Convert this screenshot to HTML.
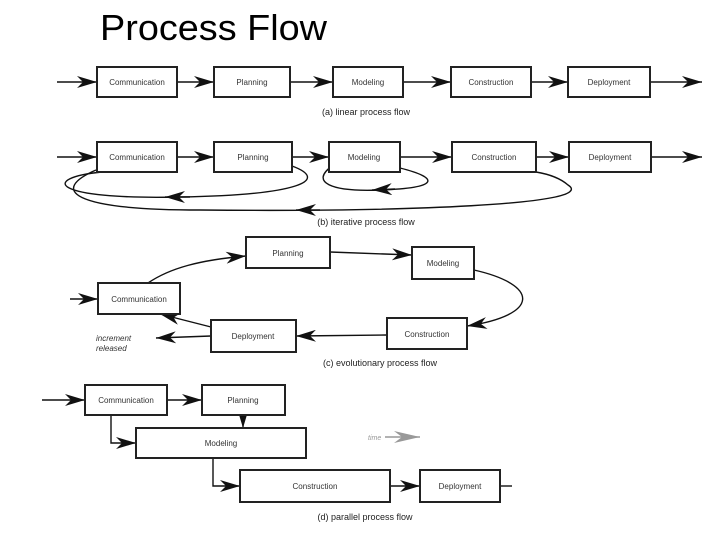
<!DOCTYPE html>
<html><head><meta charset="utf-8"><style>
html,body{margin:0;padding:0;background:#fff;}
svg{display:block;}
text{font-family:"Liberation Sans",sans-serif;}
.b{fill:#fff;stroke:#222;stroke-width:2;}
.t{font-size:8px;fill:#333;text-anchor:middle;}
.l{stroke:#111;stroke-width:1.4;fill:none;}
.cap{font-size:9px;fill:#222;text-anchor:middle;}
</style></head><body>
<svg width="720" height="540" viewBox="0 0 720 540" xmlns="http://www.w3.org/2000/svg">
<defs>
<marker id="a" markerWidth="22" markerHeight="12" refX="20" refY="6" orient="auto" markerUnits="userSpaceOnUse">
<path d="M0,0 L20,6 L0,12 L6,6 z" fill="#111"/></marker>
<marker id="g" markerWidth="28" markerHeight="12" refX="26" refY="6" orient="auto" markerUnits="userSpaceOnUse">
<path d="M0,0 L26,6 L0,12 L8,6 z" fill="#999"/></marker>
</defs>
<text x="100" y="40" font-size="36" textLength="227" lengthAdjust="spacingAndGlyphs" fill="#000">Process Flow</text>

<!-- (a) -->
<g>
<line class="l" x1="57" y1="82" x2="97" y2="82" marker-end="url(#a)"/>
<line class="l" x1="177" y1="82" x2="214" y2="82" marker-end="url(#a)"/>
<line class="l" x1="290" y1="82" x2="333" y2="82" marker-end="url(#a)"/>
<line class="l" x1="403" y1="82" x2="451" y2="82" marker-end="url(#a)"/>
<line class="l" x1="531" y1="82" x2="568" y2="82" marker-end="url(#a)"/>
<line class="l" x1="650" y1="82" x2="702" y2="82" marker-end="url(#a)"/>
<rect class="b" x="97" y="67" width="80" height="30"/><text class="t" x="137" y="85">Communication</text>
<rect class="b" x="214" y="67" width="76" height="30"/><text class="t" x="252" y="85">Planning</text>
<rect class="b" x="333" y="67" width="70" height="30"/><text class="t" x="368" y="85">Modeling</text>
<rect class="b" x="451" y="67" width="80" height="30"/><text class="t" x="491" y="85">Construction</text>
<rect class="b" x="568" y="67" width="82" height="30"/><text class="t" x="609" y="85">Deployment</text>
<text class="cap" x="366" y="115">(a) linear process flow</text>
</g>

<!-- (b) -->
<g>
<path class="l" d="M102,172 C40,178 50,200 180,197 C300,195 330,180 292,166" />
<path class="l" d="M190,197 L165,197" marker-end="url(#a)"/>
<path class="l" d="M332,166 C310,182 330,192 380,190 C440,188 440,178 400,168" />
<path class="l" d="M395,189 L372,190" marker-end="url(#a)"/>
<path class="l" d="M96,170 C50,190 70,210 200,210 C400,212 600,205 568,185 C560,178 548,174 536,172" />
<path class="l" d="M320,210 L296,210" marker-end="url(#a)"/>
<line class="l" x1="57" y1="157" x2="97" y2="157" marker-end="url(#a)"/>
<line class="l" x1="177" y1="157" x2="214" y2="157" marker-end="url(#a)"/>
<line class="l" x1="292" y1="157" x2="329" y2="157" marker-end="url(#a)"/>
<line class="l" x1="400" y1="157" x2="452" y2="157" marker-end="url(#a)"/>
<line class="l" x1="536" y1="157" x2="569" y2="157" marker-end="url(#a)"/>
<line class="l" x1="651" y1="157" x2="702" y2="157" marker-end="url(#a)"/>
<rect class="b" x="97" y="142" width="80" height="30"/><text class="t" x="137" y="160">Communication</text>
<rect class="b" x="214" y="142" width="78" height="30"/><text class="t" x="253" y="160">Planning</text>
<rect class="b" x="329" y="142" width="71" height="30"/><text class="t" x="364" y="160">Modeling</text>
<rect class="b" x="452" y="142" width="84" height="30"/><text class="t" x="494" y="160">Construction</text>
<rect class="b" x="569" y="142" width="82" height="30"/><text class="t" x="610" y="160">Deployment</text>
<text class="cap" x="366" y="225">(b) iterative process flow</text>
</g>

<!-- (c) -->
<g>
<path class="l" d="M148,283 C170,268 200,260 246,256" marker-end="url(#a)"/>
<path class="l" d="M330,252 L412,255" marker-end="url(#a)"/>
<path class="l" d="M474,270 C540,285 540,315 467,326" marker-end="url(#a)"/>
<path class="l" d="M387,335 L296,336" marker-end="url(#a)"/>
<path class="l" d="M211,327 L160,314" marker-end="url(#a)"/>
<path class="l" d="M211,336 L156,338" marker-end="url(#a)"/>
<line class="l" x1="70" y1="299" x2="98" y2="299" marker-end="url(#a)"/>
<rect class="b" x="246" y="237" width="84" height="31"/><text class="t" x="288" y="256">Planning</text>
<rect class="b" x="412" y="247" width="62" height="32"/><text class="t" x="443" y="266">Modeling</text>
<rect class="b" x="98" y="283" width="82" height="31"/><text class="t" x="139" y="302">Communication</text>
<rect class="b" x="387" y="318" width="80" height="31"/><text class="t" x="427" y="337">Construction</text>
<rect class="b" x="211" y="320" width="85" height="32"/><text class="t" x="253" y="339">Deployment</text>
<text x="96" y="341" font-size="8" font-style="italic" fill="#333">increment</text>
<text x="96" y="351" font-size="8" font-style="italic" fill="#333">released</text>
<text class="cap" x="380" y="366">(c) evolutionary process flow</text>
</g>

<!-- (d) -->
<g>
<line class="l" x1="42" y1="400" x2="85" y2="400" marker-end="url(#a)"/>
<line class="l" x1="167" y1="400" x2="202" y2="400" marker-end="url(#a)"/>
<path class="l" d="M111,415 L111,443 L136,443" marker-end="url(#a)"/>
<line class="l" x1="243" y1="415" x2="243" y2="428" marker-end="url(#a)"/>
<path class="l" d="M213,458 L213,486 L240,486" marker-end="url(#a)"/>
<line class="l" x1="390" y1="486" x2="420" y2="486" marker-end="url(#a)"/>
<line class="l" x1="500" y1="486" x2="512" y2="486"/>
<rect class="b" x="85" y="385" width="82" height="30"/><text class="t" x="126" y="403">Communication</text>
<rect class="b" x="202" y="385" width="83" height="30"/><text class="t" x="243" y="403">Planning</text>
<rect class="b" x="136" y="428" width="170" height="30"/><text class="t" x="221" y="446">Modeling</text>
<rect class="b" x="240" y="470" width="150" height="32"/><text class="t" x="315" y="489">Construction</text>
<rect class="b" x="420" y="470" width="80" height="32"/><text class="t" x="460" y="489">Deployment</text>
<text x="368" y="440" font-size="7" font-style="italic" fill="#999">time</text>
<line x1="385" y1="437" x2="420" y2="437" stroke="#999" stroke-width="1.4" marker-end="url(#g)"/>
<text class="cap" x="365" y="520">(d) parallel process flow</text>
</g>
</svg>
</body></html>
